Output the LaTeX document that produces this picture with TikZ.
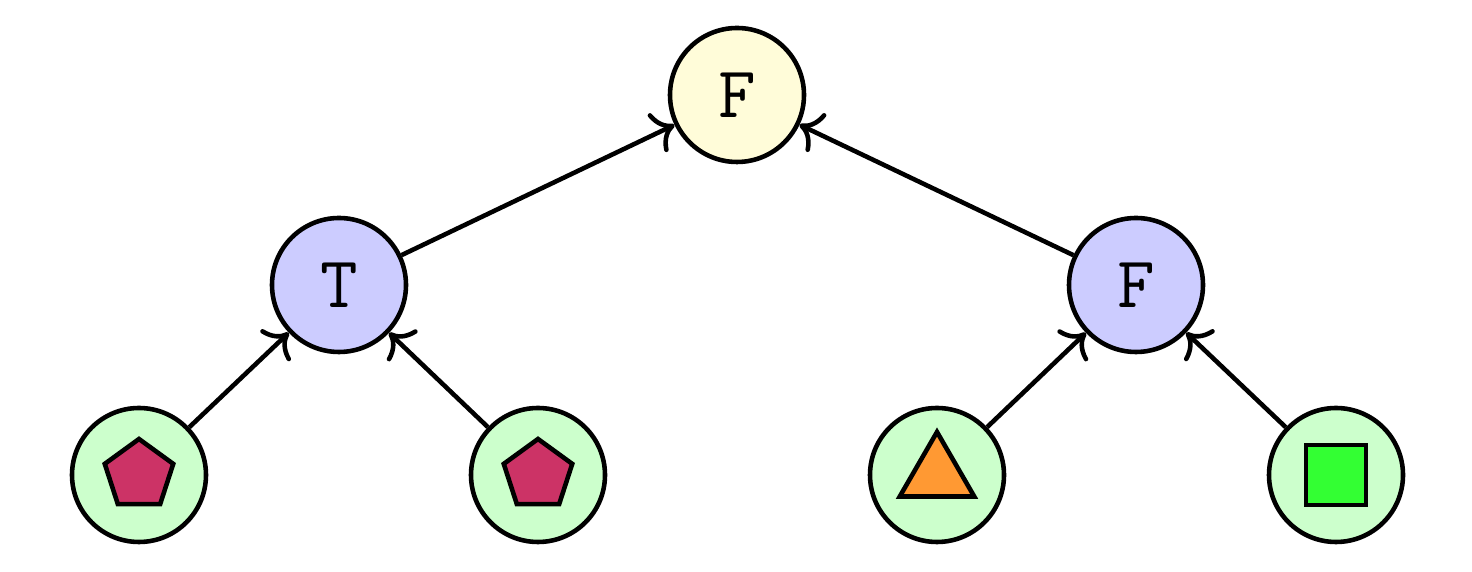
\documentclass[tikz,border=0pt]{standalone}
\usetikzlibrary{shapes.geometric,arrows.meta}
\definecolor{rootfill}{RGB}{255,252,217}
\definecolor{midfill}{RGB}{204,204,255}
\definecolor{leaffill}{RGB}{204,255,204}
\definecolor{pentfill}{RGB}{204,51,102}
\definecolor{trifill}{RGB}{255,153,51}
\definecolor{sqfill}{RGB}{51,255,51}
\begin{document}
\begin{tikzpicture}[
  line width=1.3pt,
  vertex/.style={circle, draw, minimum size=1.34cm, inner sep=0pt, font=\ttfamily\huge},
  rootv/.style={vertex, fill=rootfill},
  midv/.style={vertex, fill=midfill},
  leafv/.style={vertex, fill=leaffill},
  pent/.style={regular polygon, regular polygon sides=5, draw, fill=pentfill, minimum size=0.72cm, inner sep=0pt},
  tri/.style={regular polygon, regular polygon sides=3, draw, fill=trifill, minimum size=0.86cm, inner sep=0pt},
  sq/.style={rectangle, draw, fill=sqfill, minimum size=0.6cm, inner sep=0pt},
  edge/.style={-{To[scale=1.3]}}
]
\useasboundingbox (0,0) rectangle (14.72,5.72);

% tree nodes
\node[rootv] (r) at (7.37,4.77) {F};
\node[midv] (a) at (3.39,2.87) {T};
\node[midv] (b) at (11.36,2.87) {F};
\node[leafv] (l1) at (1.39,0.97) {};
\node[leafv] (l2) at (5.38,0.97) {};
\node[leafv] (l3) at (9.37,0.97) {};
\node[leafv] (l4) at (13.36,0.97) {};

% leaf symbols
\node[pent] (p1) at (l1.center) {};
\node[pent] (p2) at (l2.center) {};
\node[tri] (t3) at (l3.center) {};
\node[sq] (s4) at (l4.center) {};

% edges point from child to parent
\draw[edge] (a) -- (r);
\draw[edge] (b) -- (r);
\draw[edge] (l1) -- (a);
\draw[edge] (l2) -- (a);
\draw[edge] (l3) -- (b);
\draw[edge] (l4) -- (b);
\end{tikzpicture}
\end{document}
